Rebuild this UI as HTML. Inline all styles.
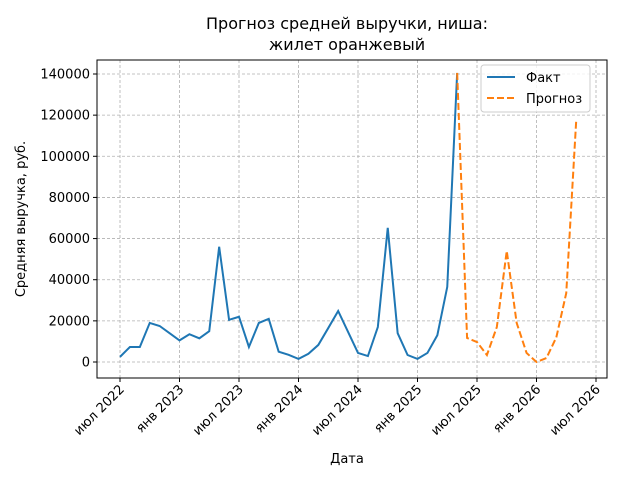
<!DOCTYPE html>
<html><head><meta charset="utf-8"><style>
body{margin:0;background:#fff;font-family:"Liberation Sans","DejaVu Sans",sans-serif}
text{font-family:"DejaVu Sans","Liberation Sans",sans-serif}
</style></head><body>
<svg id="chart" width="640" height="480" xmlns="http://www.w3.org/2000/svg">
<rect width="640" height="480" fill="#fff"/>
<text x="347" y="29" font-size="16" text-anchor="middle">Прогноз средней выручки, ниша:</text>
<text x="347" y="50" font-size="16" text-anchor="middle">жилет оранжевый</text>
<g id="grid"></g><g id="axes"></g><g id="series"></g>
<text x="347" y="463" font-size="13" text-anchor="middle">Дата</text>
<text transform="translate(25,219) rotate(-90)" font-size="13" text-anchor="middle">Средняя выручка, руб.</text>
<g>
<rect x="481" y="65" width="109" height="47" rx="3" fill="#fff" fill-opacity="0.8" stroke="#ccc"/>
<line x1="487" y1="77" x2="515" y2="77" stroke="#1f77b4" stroke-width="2"/>
<text x="526" y="82" font-size="13">Факт</text>
<line x1="487" y1="98" x2="515" y2="98" stroke="#ff7f0e" stroke-width="2" stroke-dasharray="7,3"/>
<text x="526" y="103" font-size="13">Прогноз</text>
</g>
</svg>
<script>
const factValues=[2500,7300,7300,19000,17500,14000,10500,13500,11500,15000,56000,20500,22000,7300,19000,21000,5000,3500,1500,4000,8300,16500,24800,14600,4400,2900,17000,65200,14000,3400,1500,4400,13000,36500,140500];
const forecastValues=[140500,11700,9700,3400,17000,54000,19000,4400,0,1900,12000,33500,117000];
const forecastStart=34;
const yTicks=[0,20000,40000,60000,80000,100000,120000,140000];
const xTickLabels=["июл 2022","янв 2023","июл 2023","янв 2024","июл 2024","янв 2025","июл 2025","янв 2026","июл 2026"];
const xTickMonths=[0,6,12,18,24,30,36,42,48];
const NS="http://www.w3.org/2000/svg";
const L=97,R=607,T=60,B=378;
function x(m){return 120+m*(596-120)/48;}
function y(v){return 362-v*(362-74)/140000;}
function mk(tag,attrs,parent){const e=document.createElementNS(NS,tag);for(const k in attrs)e.setAttribute(k,attrs[k]);document.getElementById(parent).appendChild(e);return e;}
yTicks.forEach(v=>{
 const g=mk('line',{x1:L,x2:R,y1:y(v),y2:y(v),stroke:'#b0b0b0','stroke-width':0.8,'stroke-dasharray':'3,2'},'grid');
 
 
 mk('line',{x1:L-4,x2:L,y1:y(v),y2:y(v),stroke:'#000'},'axes');
 const t=mk('text',{x:L-7,y:y(v)+4.5,'font-size':13,'text-anchor':'end'},'axes');
 t.textContent=v;
 
 
});
xTickMonths.forEach((m,i)=>{
 const g=mk('line',{x1:x(m),x2:x(m),y1:T,y2:B,stroke:'#b0b0b0','stroke-width':0.8,'stroke-dasharray':'3,2'},'grid');
 
 
 mk('line',{x1:x(m),x2:x(m),y1:B,y2:B+4,stroke:'#000'},'axes');
 const t=mk('text',{'font-size':13,'text-anchor':'end',transform:`translate(${x(m)+5},${B+12}) rotate(-45)`},'axes');
 t.textContent=xTickLabels[i];
 
 
});
const frame=mk('rect',{x:L,y:T,width:R-L,height:B-T,fill:'none',stroke:'#000','stroke-width':1},'axes');


const fp=mk('polyline',{points:factValues.map((v,i)=>x(i)+','+y(v)).join(' '),fill:'none',stroke:'#1f77b4','stroke-width':2},'series');


const pp=mk('polyline',{points:forecastValues.map((v,i)=>x(forecastStart+i)+','+y(v)).join(' '),fill:'none',stroke:'#ff7f0e','stroke-width':2,'stroke-dasharray':'7,3'},'series');


</script>
</body></html>
